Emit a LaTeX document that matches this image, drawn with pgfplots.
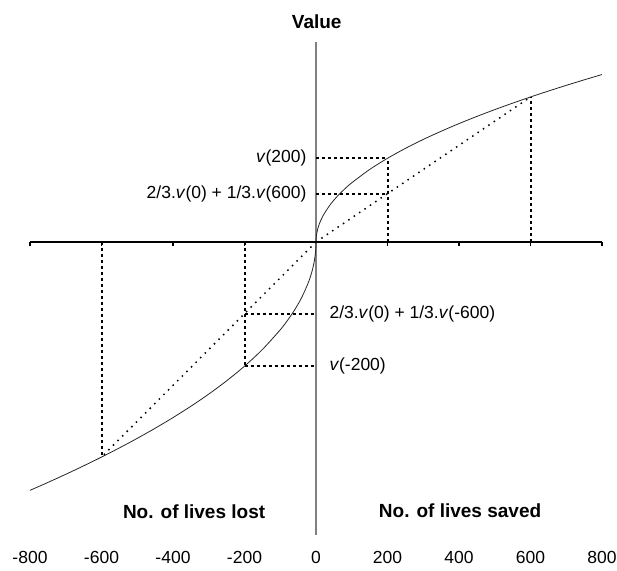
\documentclass[border=0pt]{standalone}
\usepackage{pgfplots}
\pgfplotsset{compat=1.18}
\usepackage{fontspec}
\setmainfont{Liberation Sans}
\begin{document}
\begin{tikzpicture}[font=\fontsize{17.5}{21}\selectfont]
\path[use as bounding box] (0,0) rectangle (617pt,570pt);
\begin{axis}[
  at={(30pt,35pt)}, anchor=south west,
  width=572pt, height=493pt, scale only axis,
  xmin=-800, xmax=800, ymin=-293, ymax=200,
  clip=false,
  axis x line*=bottom, axis y line=none,
  x axis line style={draw=none},
  major tick length=0pt,
  xtick={-800,-600,-400,-200,0,200,400,600,800},
  ytick=\empty,
  xticklabel style={anchor=center, yshift=-22pt},
  unbounded coords=jump,
  /pgf/number format/assume math mode=true,
  /pgf/number format/.cd, 1000 sep={},
]
% axes
\addplot[draw=black!50, line width=1.5pt] coordinates {(0,200) (0,-293)};
\addplot[black, line width=1.3pt] coordinates {(-800,0) (800,0)};
\addplot[black, line width=1.2pt] coordinates {
(-800,0) (-800,-4.5) (-800,nan) (-600,0) (-600,-4.5) (-600,nan)
(-400,0) (-400,-4.5) (-400,nan) (-200,0) (-200,-4.5) (-200,nan)
(200,0) (200,-4.5) (200,nan) (400,0) (400,-4.5) (400,nan)
(600,0) (600,-4.5) (600,nan) (800,0) (800,-4.5)
};
% value function
\addplot[black!85, line width=0.8pt, smooth] coordinates {
(-800,-248.33) (-750,-240.45) (-700,-232.30) (-650,-223.85) (-600,-215.07)
(-550,-205.91) (-500,-196.33) (-450,-186.25) (-400,-175.6) (-350,-164.26)
(-300,-152.08) (-250,-138.82) (-200,-124.17) (-150,-107.53) (-100,-87.8)
(-80,-78.53) (-60,-68.01) (-40,-55.53) (-20,-39.27) (-10,-27.76) (-5,-19.63)
(-2,-12.42) (-1,-8.78) (-0.5,-6.21) (-0.2,-3.93) (0,0)
};
\addplot[black!85, line width=0.8pt, smooth] coordinates {
(0,0) (0.2,2.65) (0.5,4.19) (1,5.92) (2,8.37) (5,13.24) (10,18.72) (20,26.47)
(40,37.44) (60,45.86) (80,52.95) (100,59.2) (150,72.50) (200,83.72)
(250,93.60) (300,102.54) (350,110.75) (400,118.4) (450,125.58) (500,132.38)
(550,138.84) (600,145.01) (650,150.93) (700,156.63) (750,162.13) (800,167.44)
};
% chords
\addplot[black, line width=1.5pt, dash pattern=on 1.5pt off 5pt] coordinates {(0,0) (600,145.01)};
\addplot[black, line width=1.5pt, dash pattern=on 1.5pt off 5pt] coordinates {(0,0) (-600,-215.07)};
% dashed guides
\addplot[black, line width=2pt, dash pattern=on 3pt off 3pt] coordinates {(600,0) (600,145.01)};
\addplot[black, line width=2pt, dash pattern=on 3pt off 3pt] coordinates {(200,0) (200,83.72)};
\addplot[black, line width=2pt, dash pattern=on 3pt off 3pt] coordinates {(0,83.72) (200,83.72)};
\addplot[black, line width=2pt, dash pattern=on 3pt off 3pt] coordinates {(0,48.34) (200,48.34)};
\addplot[black, line width=2pt, dash pattern=on 3pt off 3pt] coordinates {(-600,0) (-600,-215.07)};
\addplot[black, line width=2pt, dash pattern=on 3pt off 3pt] coordinates {(-200,0) (-200,-124.17)};
\addplot[black, line width=2pt, dash pattern=on 3pt off 3pt] coordinates {(-200,-71.69) (0,-71.69)};
\addplot[black, line width=2pt, dash pattern=on 3pt off 3pt] coordinates {(-200,-124.17) (0,-124.17)};
% labels
\node[anchor=east, xshift=-6pt] at (axis cs:0,83.72) {\textit{v}(200)};
\node[anchor=east, xshift=-6pt] at (axis cs:0,48.34) {2/3.\textit{v}(0) + 1/3.\textit{v}(600)};
\node[anchor=west, xshift=10pt] at (axis cs:0,-71.69) {2/3.\textit{v}(0) + 1/3.\textit{v}(-600)};
\node[anchor=west, xshift=10pt] at (axis cs:0,-124.17) {\textit{v}(-200)};
\node[font=\fontsize{19}{23}\selectfont\bfseries] at (axis cs:2,220) {Value};
\node[font=\fontsize{19}{23}\selectfont\bfseries] at (axis cs:-341,-270) {No. of lives lost};
\node[font=\fontsize{19}{23}\selectfont\bfseries] at (axis cs:403,-269) {No. of lives saved};
\end{axis}
\end{tikzpicture}
\end{document}
